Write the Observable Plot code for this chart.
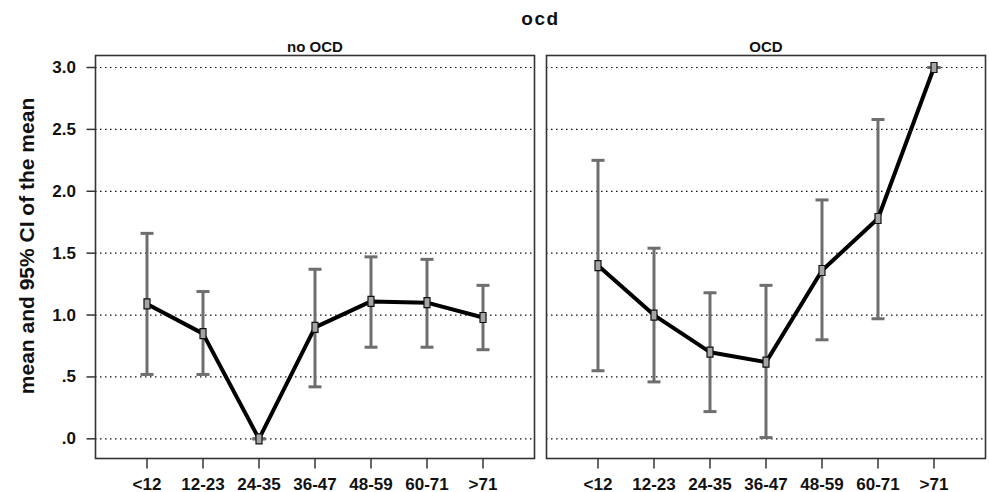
<!DOCTYPE html>
<html>
<head>
<meta charset="utf-8">
<script src="https://cdn.jsdelivr.net/npm/d3@7"></script>
<script src="https://cdn.jsdelivr.net/npm/@observablehq/plot@0.6"></script>
<style>
  body { margin: 0; background: #fff; font-family: "Liberation Sans", Arial, sans-serif; overflow: hidden; }
  #title { box-sizing: border-box; width: 989px; height: 30px; padding-left: 92px; text-align: center;
           font-weight: bold; font-size: 19px; letter-spacing: 1.5px; line-height: 38px; color: #111; }
  #chart svg text { font-weight: bold; }
</style>
</head>
<body>
<div id="title">ocd</div>
<div id="chart"></div>
<script>
const ageGroups = ["<12", "12-23", "24-35", "36-47", "48-59", "60-71", ">71"];
const panels = ["no OCD", "OCD"];
const noOcdMean  = [1.09, 0.85, 0.00, 0.90, 1.11, 1.10, 0.98];
const noOcdLower = [0.52, 0.52, 0.00, 0.42, 0.74, 0.74, 0.72];
const noOcdUpper = [1.66, 1.19, 0.00, 1.37, 1.47, 1.45, 1.24];
const ocdMean    = [1.40, 1.00, 0.70, 0.62, 1.36, 1.78, 3.00];
const ocdLower   = [0.55, 0.46, 0.22, 0.01, 0.80, 0.97, 3.00];
const ocdUpper   = [2.25, 1.54, 1.18, 1.24, 1.93, 2.58, 3.00];
const yTicks = [0, 0.5, 1, 1.5, 2, 2.5, 3];
const yTickLabels = [".0", ".5", "1.0", "1.5", "2.0", "2.5", "3.0"];
const yTitle = "mean and 95% CI of the mean";

const rows = [];
ageGroups.forEach((a, i) => {
  rows.push({panel: panels[0], age: a, mean: noOcdMean[i], lo: noOcdLower[i], hi: noOcdUpper[i]});
});
ageGroups.forEach((a, i) => {
  rows.push({panel: panels[1], age: a, mean: ocdMean[i], lo: ocdLower[i], hi: ocdUpper[i]});
});
const caps = rows.flatMap(d => [{panel: d.panel, age: d.age, v: d.lo}, {panel: d.panel, age: d.age, v: d.hi}]);

const hLine = {draw(ctx, size) { const w = Math.sqrt(size / Math.PI); ctx.moveTo(-w, 0); ctx.lineTo(w, 0); }};
const vLine = {draw(ctx, size) { const w = Math.sqrt(size / Math.PI); ctx.moveTo(0, -w); ctx.lineTo(0, w); }};
const boxSymbol = {draw(ctx, size) { ctx.rect(-3, -5, 6, 10); }};

const chart = Plot.plot({
  width: 989,
  height: 462,
  marginLeft: 94.5,
  marginRight: 2.3,
  marginTop: 25,
  marginBottom: 34,
  style: {fontFamily: "'Liberation Sans', Arial, sans-serif", fontSize: "17px", color: "#111", background: "#fff", overflow: "visible"},
  fx: {domain: panels, axis: null, paddingInner: 0.026, paddingOuter: 0, label: null},
  x: {domain: ageGroups, type: "point", padding: 0.889, label: null, axis: null},
  y: {domain: [-0.159, 3.097], label: null, axis: null},
  marks: [
    Plot.gridY(yTicks, {stroke: "#111", strokeOpacity: 1, strokeWidth: 1.2, strokeDasharray: "1.5,3.5"}),
    Plot.frame({stroke: "#333", strokeWidth: 1.6}),
    // y axis (left panel only)
    Plot.dot(yTicks, {fx: () => panels[0], y: d => d, frameAnchor: "left", symbol: hLine, r: 4.5, dx: -4.5, stroke: "#333", strokeWidth: 1.5, fill: "none"}),
    Plot.text(yTicks, {fx: () => panels[0], y: d => d, text: (d, i) => yTickLabels[i], frameAnchor: "left", textAnchor: "end", dx: -19.5, fontSize: 17, fill: "#111"}),
    // x axis (both panels)
    Plot.dot(ageGroups, {x: d => d, frameAnchor: "bottom", symbol: vLine, r: 5, dy: 5, stroke: "#333", strokeWidth: 1.5, fill: "none"}),
    Plot.text(ageGroups, {x: d => d, text: d => d, frameAnchor: "bottom", lineAnchor: "middle", dy: 26, fontSize: 17, fill: "#111"}),
    // data
    Plot.ruleX(rows, {fx: "panel", x: "age", y1: "lo", y2: "hi", stroke: "#6e6e6e", strokeWidth: 3}),
    Plot.dot(caps, {fx: "panel", x: "age", y: "v", symbol: hLine, r: 6.5, stroke: "#6e6e6e", strokeWidth: 3, fill: "none"}),
    Plot.line(rows, {fx: "panel", x: "age", y: "mean", stroke: "#000", strokeWidth: 4, strokeLinejoin: "round"}),
    Plot.dot(rows, {fx: "panel", x: "age", y: "mean", symbol: boxSymbol, r: 4, fill: "#a5a5a5", stroke: "#111", strokeWidth: 1.2}),
    // facet labels and y title
    Plot.text(panels, {fx: d => d, text: d => d, frameAnchor: "top", lineAnchor: "bottom", dy: -4, fontSize: 15, fill: "#111"}),
    Plot.text([{panel: panels[0], t: yTitle}], {fx: "panel", text: "t", frameAnchor: "left", textAnchor: "middle", lineAnchor: "middle", rotate: -90, dx: -68, dy: -11, fontSize: 21, fill: "#111"})
  ]
});
document.getElementById("chart").appendChild(chart);
</script>
</body>
</html>
